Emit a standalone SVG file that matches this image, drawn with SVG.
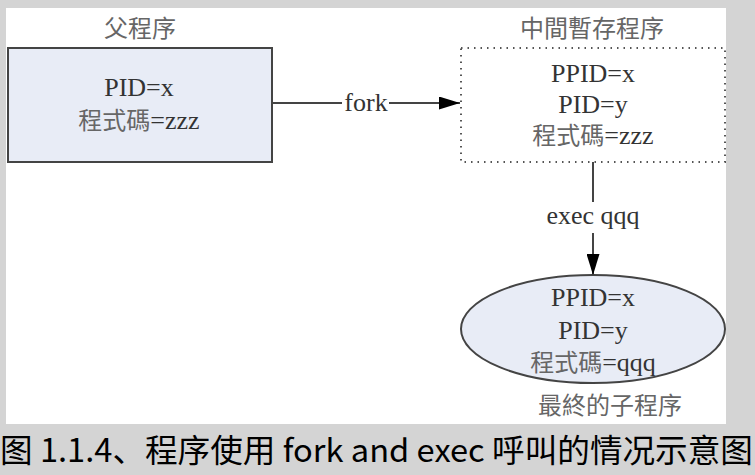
<svg xmlns="http://www.w3.org/2000/svg" width="755" height="475" viewBox="0 0 755 475">
<defs>
<style>
.t{font-family:"Liberation Serif","Noto Sans CJK TC",serif;font-size:26px;text-anchor:middle}
.lat{fill:#333}
.cjk{fill:#666;font-size:24px}
.ttl{fill:#666;font-family:"Liberation Serif","Noto Sans CJK TC",serif;font-size:24px;text-anchor:middle}
.edge{stroke:#444;stroke-width:2;fill:none}
</style>
<marker id="arr" markerWidth="21" markerHeight="13" refX="21" refY="6.5" orient="auto" markerUnits="userSpaceOnUse">
<path d="M0,0 L21,6.5 L0,13 Z" fill="#000"/>
</marker>
</defs>
<rect x="0" y="0" width="755" height="475" fill="#d4d4d4"/>
<rect x="6" y="8" width="720" height="416" fill="#fff"/>
<g id="parent">
<text class="ttl" x="140" y="37">父程序</text>
<rect x="8" y="48" width="264" height="114" fill="#e8ecf6" stroke="#444" stroke-width="2"/>
<text class="t lat" x="139" y="96">PID=x</text>
<text class="t" x="139" y="129"><tspan class="cjk">程式碼</tspan><tspan class="lat">=zzz</tspan></text>
</g>
<g id="temp">
<text class="ttl" x="592" y="37">中間暫存程序</text>
<rect x="461" y="48" width="264" height="114" fill="none" stroke="#555" stroke-width="2" stroke-dasharray="1.5,5"/>
<text class="t lat" x="593" y="82">PPID=x</text>
<text class="t lat" x="593" y="113">PID=y</text>
<text class="t" x="593" y="144"><tspan class="cjk">程式碼</tspan><tspan class="lat">=zzz</tspan></text>
</g>
<g id="child">
<ellipse cx="593" cy="329" rx="132" ry="54" fill="#e8ecf6" stroke="#444" stroke-width="2"/>
<text class="t lat" x="593" y="306">PPID=x</text>
<text class="t lat" x="593" y="339">PID=y</text>
<text class="t" x="593" y="371"><tspan class="cjk">程式碼</tspan><tspan class="lat">=qqq</tspan></text>
<text class="ttl" x="610" y="414">最終的子程序</text>
</g>
<g id="connectors">
<path class="edge" d="M272,103 H342"/>
<path class="edge" d="M389,103 H460" marker-end="url(#arr)"/>
<text class="t lat" x="366" y="111">fork</text>
<path class="edge" d="M593,162 V202"/>
<path class="edge" d="M593,233 V275" marker-end="url(#arr)"/>
<text class="t lat" x="593" y="224">exec qqq</text>
</g>
<text x="0" y="462" textLength="753" lengthAdjust="spacingAndGlyphs" style="font-family:'Noto Sans CJK SC','Noto Sans',sans-serif;font-size:32px;fill:#000">图 1.1.4、程序使用 fork and exec 呼叫的情况示意图</text>
</svg>
